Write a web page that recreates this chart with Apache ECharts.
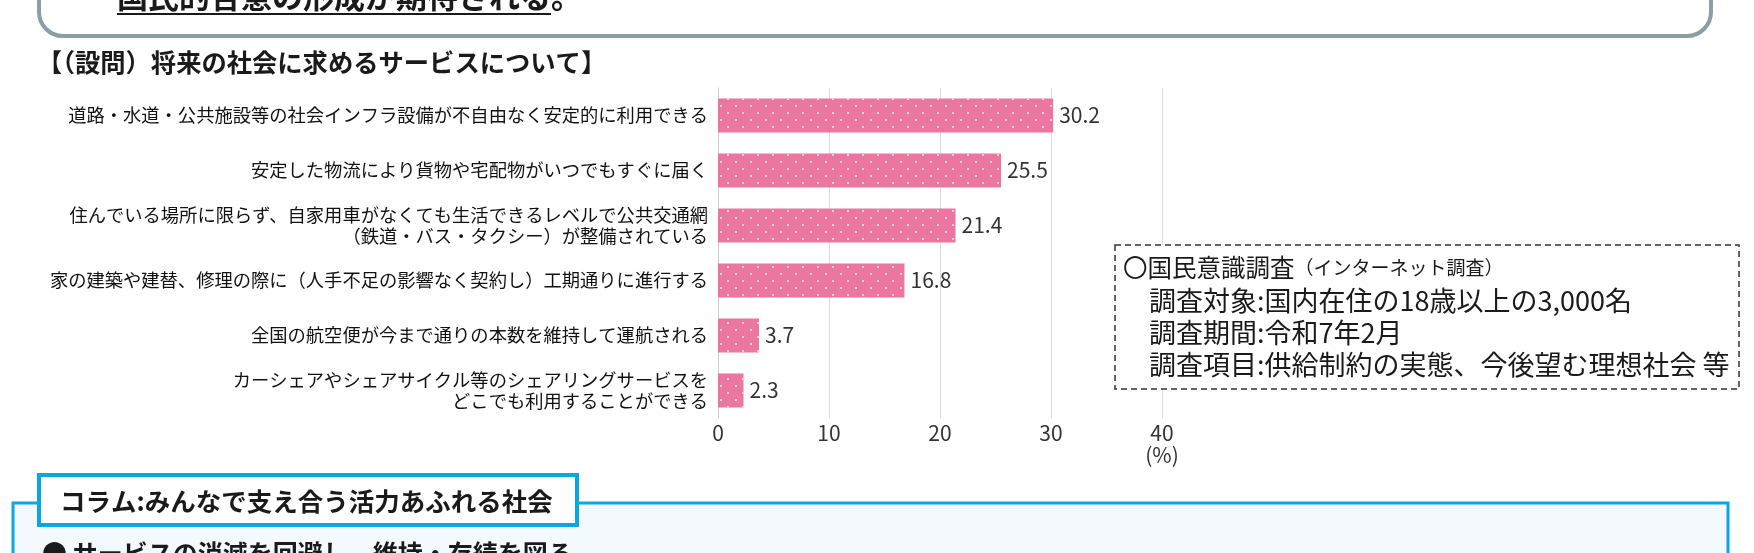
<!doctype html>
<html lang="ja">
<head>
<meta charset="utf-8"/>
<title>将来の社会に求めるサービスについて</title>
<style>
  html, body { margin: 0; padding: 0; background: #fff; }
  #chart { width: 1754px; height: 553px; }
</style>
</head>
<body>
<div id="chart"></div>
<script src="https://cdn.jsdelivr.net/npm/echarts@6.0.0/dist/echarts.min.js"></script>
<script>
  // survey answers (%), top to bottom
  const categories = [
    "道路・水道・公共施設等の社会インフラ設備が不自由なく安定的に利用できる",
    "安定した物流により貨物や宅配物がいつでもすぐに届く",
    "住んでいる場所に限らず、自家用車がなくても生活できるレベルで公共交通網\n（鉄道・バス・タクシー）が整備されている",
    "家の建築や建替、修理の際に（人手不足の影響なく契約し）工期通りに進行する",
    "全国の航空便が今まで通りの本数を維持して運航される",
    "カーシェアやシェアサイクル等のシェアリングサービスを\nどこでも利用することができる",
  ];
  const values = [30.2, 25.5, 21.4, 16.8, 3.7, 2.3];
  const xMax = 40;
  const xStep = 10;
  const unitLabel = "(%)";

  const headText = "国民的合意の形成が期待される";
  const chartTitle = "【（設問）将来の社会に求めるサービスについて】";
  const surveyName = "〇国民意識調査";
  const surveyNote = "（インターネット調査）";
  const surveyLines = [
    "調査対象:国内在住の18歳以上の3,000名",
    "調査期間:令和7年2月",
    "調査項目:供給制約の実態、今後望む理想社会 等",
  ];
  const columnTitle = "コラム:みんなで支え合う活力あふれる社会";
  const columnBullet = "● サービスの消滅を回避し、維持・存続を図る";

  const FONT = '"Noto Sans CJK JP", "Noto Sans", sans-serif';
  const PINK = "#eb77a0";
  const CYAN = "#0aa8df";

  const txt = (x, y, text, size, extra) => ({
    type: "text", x, y, z: 110,
    style: Object.assign({
      text, fontSize: size, fontFamily: FONT, fill: "#1a1a1a",
      align: "left", verticalAlign: "middle",
    }, extra || {}),
  });

  const graphic = [
    // top rounded box (cut off by the page edge)
    { type: "rect", z: 100, shape: { x: 39, y: -60, width: 1672, height: 96, r: 24 },
      style: { fill: "#fff", stroke: "#8b9ea3", lineWidth: 4 } },
    txt(117, -4, headText + "。", 31, { fontWeight: "bold" }),
    { type: "line", z: 110, shape: { x1: 117, y1: 14, x2: 117 + 31 * headText.length, y2: 14 },
      style: { stroke: "#1a1a1a", lineWidth: 2 } },
    txt(37, 62, chartTitle, 25.3, { fontWeight: "bold" }),

    // survey info box
    { type: "rect", z: 100, shape: { x: 1115, y: 245, width: 624, height: 144 },
      style: { fill: "#fff", stroke: "#333", lineWidth: 1.5, lineDash: [6, 4] } },
    { type: "text", x: 1123, y: 268, z: 110,
      style: {
        text: "{a|" + surveyName + "}{b|" + surveyNote + "}",
        fontFamily: FONT, fill: "#1a1a1a", verticalAlign: "middle",
        rich: { a: { fontSize: 24.5, fontFamily: FONT }, b: { fontSize: 19, fontFamily: FONT } },
      } },
    ...surveyLines.map((s, i) => txt(1149, 301 + i * 32, s, 27)),

    // column box at the bottom
    { type: "rect", z: 100, shape: { x: 13, y: 503, width: 1715, height: 120 },
      style: { fill: "#f4f9fd", stroke: CYAN, lineWidth: 3 } },
    { type: "rect", z: 101, shape: { x: 39, y: 475, width: 538, height: 50 },
      style: { fill: "#fff", stroke: CYAN, lineWidth: 4 } },
    txt(60, 501, columnTitle, 25.5, { fontWeight: "bold" }),
    txt(42, 553, columnBullet, 25, { fontWeight: "bold" }),
  ];

  const chart = echarts.init(document.getElementById("chart"), null, { renderer: "canvas" });
  chart.setOption({
    backgroundColor: "#fff",
    animation: false,
    textStyle: { fontFamily: FONT },
    grid: { left: 718, top: 88, width: 444, height: 330, containLabel: false },
    xAxis: {
      type: "value", min: 0, max: xMax, interval: xStep,
      axisLine: { show: false }, axisTick: { show: false },
      splitLine: { lineStyle: { color: "#dadada", width: 1 } },
      axisLabel: {
        fontSize: 21, color: "#333", margin: 4, lineHeight: 22, fontFamily: FONT,
        formatter: (v) => (v === xMax ? v + "\n" + unitLabel : String(v)),
      },
    },
    yAxis: {
      type: "category", inverse: true, data: categories,
      axisTick: { show: false },
      axisLine: { lineStyle: { color: "#d0d0d0" } },
      axisLabel: { fontSize: 18.3, lineHeight: 21, color: "#111", margin: 10, fontFamily: FONT },
    },
    series: [{
      type: "bar", data: values, barCategoryGap: "38%",
      itemStyle: {
        color: PINK,
        decal: {
          symbol: "circle", symbolSize: 1, color: "rgba(255,255,255,0.85)",
          dashArrayX: [[2, 12.5], [0, 7, 2, 5.5]], dashArrayY: [2, 4.5],
        },
      },
      label: { show: true, position: "right", distance: 6, fontSize: 21, color: "#333",
               fontFamily: FONT, formatter: (p) => p.value.toFixed(1) },
    }],
    graphic,
  });
</script>
</body>
</html>
